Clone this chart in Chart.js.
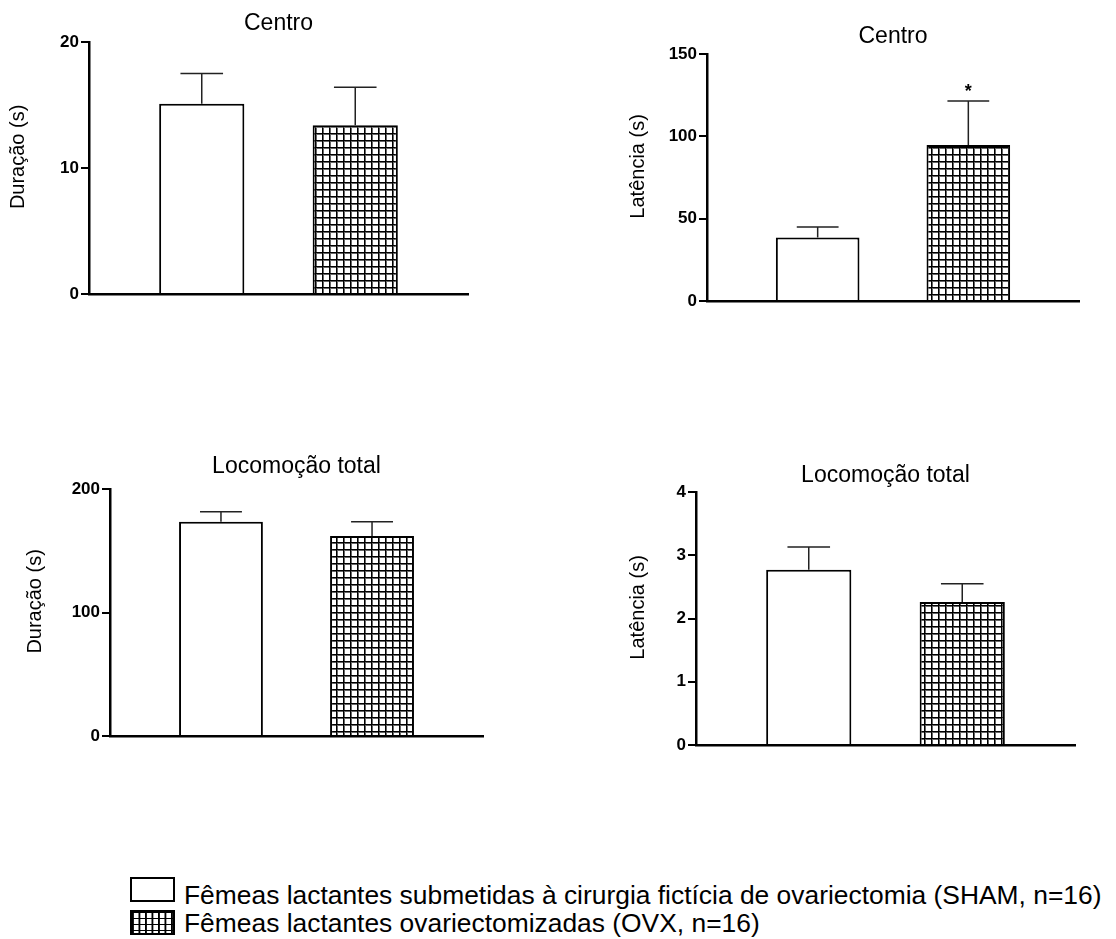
<!DOCTYPE html>
<html><head><meta charset="utf-8">
<script src="https://cdn.jsdelivr.net/npm/chart.js@4"></script>
<style>
body{margin:0;background:#fff;width:1116px;height:939px;position:relative;overflow:hidden;font-family:"Liberation Sans",Arial,sans-serif;}
canvas{position:absolute;}
.leg{position:absolute;left:184px;font-size:26.4px;color:#000;white-space:nowrap;line-height:26.4px;}
.box{position:absolute;left:130px;width:45px;box-sizing:border-box;border:2px solid #000;background:#fff;}
.hatch{background-color:#fff;background-image:linear-gradient(#000 1.5px, transparent 1.5px),linear-gradient(90deg,#000 1.5px, transparent 1.5px);background-size:6.5px 6px;}
</style></head>
<body>
<canvas id="c1" width="560" height="330" style="left:0;top:0"></canvas>
<canvas id="c2" width="556" height="330" style="left:560px;top:0"></canvas>
<canvas id="c3" width="560" height="340" style="left:0;top:430px"></canvas>
<canvas id="c4" width="556" height="340" style="left:560px;top:430px"></canvas>
<div class="box" style="top:877px;height:25px"></div>
<div class="box hatch" style="top:910px;height:25px"></div>
<div class="leg" id="leg1" style="top:882px"></div>
<div class="leg" id="leg2" style="top:910px"></div>
<script>
// ---- data ----
const groups = ['SHAM', 'OVX'];
const legendLabels = ['Fêmeas lactantes submetidas à cirurgia fictícia de ovariectomia (SHAM, n=16)',
                      'Fêmeas lactantes ovariectomizadas (OVX, n=16)'];

const centroDuracaoMean = [15.1, 13.4];
const centroDuracaoSem  = [2.4, 3.0];
const centroDuracaoTicks = [0, 10, 20];

const centroLatenciaMean = [38.5, 94.8];
const centroLatenciaSem  = [6.5, 26.6];
const centroLatenciaTicks = [0, 50, 100, 150];
const centroLatenciaSig  = ['', '*'];

const locDuracaoMean = [173.5, 162];
const locDuracaoSem  = [8.0, 11.4];
const locDuracaoTicks = [0, 100, 200];

const locLatenciaMean = [2.77, 2.26];
const locLatenciaSem  = [0.36, 0.29];
const locLatenciaTicks = [0, 1, 2, 3, 4];

document.getElementById('leg1').textContent = legendLabels[0];
document.getElementById('leg2').textContent = legendLabels[1];

const FONT = "'Liberation Sans', Arial, sans-serif";

function makePattern(){
  const c = document.createElement('canvas'); c.width = 7; c.height = 7;
  const g = c.getContext('2d');
  g.fillStyle = '#fff'; g.fillRect(0,0,7,7);
  g.fillStyle = '#000'; g.fillRect(0,0,7,1); g.fillRect(0,0,1,7);
  g.fillStyle = '#666'; g.fillRect(0,1,7,1); g.fillRect(1,0,1,7);
  g.fillStyle = '#000'; g.fillRect(0,0,2,1); g.fillRect(0,0,1,2);
  return g.createPattern(c, 'repeat');
}

const errPlugin = {
  id: 'errBars',
  afterDatasetsDraw(chart) {
    const ctx = chart.ctx, ys = chart.scales.y;
    chart.data.datasets.forEach((ds, i) => {
      const meta = chart.getDatasetMeta(i);
      meta.data.forEach((bar, j) => {
        const v = ds.data[j], e = ds.sem[j];
        const yTop = ys.getPixelForValue(v + e);
        const half = bar.width / 4;
        ctx.save();
        ctx.strokeStyle = '#222'; ctx.lineWidth = 1.5;
        ctx.beginPath();
        ctx.moveTo(bar.x, bar.y); ctx.lineTo(bar.x, yTop);
        ctx.moveTo(bar.x - half, yTop); ctx.lineTo(bar.x + half, yTop);
        ctx.stroke();
        if (ds.sig && ds.sig[j]) {
          ctx.fillStyle = '#000';
          ctx.font = 'bold 18px ' + FONT;
          ctx.textAlign = 'center'; ctx.textBaseline = 'middle';
          ctx.fillText(ds.sig[j], bar.x, yTop - 9);
        }
        ctx.restore();
      });
    });
  }
};

function makePanel(id, s) {
  const canvas = document.getElementById(id);
  const pat = makePattern();
  const ticks = s.ticks;
  new Chart(canvas, {
    type: 'bar',
    data: {
      labels: [''],
      datasets: [
        {label: groups[0], data: [s.mean[0]], sem: [s.sem[0]], sig: [s.sig ? s.sig[0] : ''],
         backgroundColor: '#fff', borderColor: '#000', borderWidth: 2},
        {label: groups[1], data: [s.mean[1]], sem: [s.sem[1]], sig: [s.sig ? s.sig[1] : ''],
         backgroundColor: pat, borderColor: '#000', borderWidth: 2}
      ]
    },
    options: {
      responsive: false, animation: false,
      layout: {padding: {left: 0, right: s.pr, top: s.pt + 2, bottom: s.pb}},
      datasets: {bar: {categoryPercentage: 0.81, barPercentage: 0.555}},
      plugins: {
        legend: {display: false}, tooltip: {enabled: false},
        title: {display: true, text: s.title, fullSize: false, color: '#000',
                font: {family: FONT, size: 23, weight: 'normal', lineHeight: 1.2},
                padding: {top: 0, bottom: s.tb - 2}}
      },
      scales: {
        x: {grid: {display: false}, ticks: {display: false},
            border: {display: true, color: '#000', width: 2.5},
            afterFit(sc) { sc.height = 0; }},
        y: {min: ticks[0], max: ticks[ticks.length - 1],
            afterBuildTicks(sc) { sc.ticks = ticks.map(v => ({value: v})); },
            ticks: {color: '#000', padding: 2, font: {family: FONT, size: 17, weight: 'bold'}},
            grid: {drawOnChartArea: false, drawTicks: true, tickLength: 8, color: '#000', lineWidth: 2},
            border: {display: true, color: '#000', width: 2.5},
            title: {display: true, text: '    ' + s.ytitle, color: '#000',
                    font: {family: FONT, size: 20, weight: 'normal', lineHeight: 1.2},
                    padding: {top: s.yt, bottom: 0}},
            afterFit(sc) { sc.width = s.aw; }}
      }
    },
    plugins: [errPlugin]
  });
}

makePanel('c1', {title: 'Centro', ytitle: 'Duração (s)', mean: centroDuracaoMean, sem: centroDuracaoSem,
  ticks: centroDuracaoTicks, aw: 89, pr: 560 - 468, pt: 8.2, tb: 6.2, pb: 330 - 294, yt: 6});
makePanel('c2', {title: 'Centro', ytitle: 'Latência (s)', mean: centroLatenciaMean, sem: centroLatenciaSem,
  sig: centroLatenciaSig, ticks: centroLatenciaTicks, aw: 147, pr: 556 - 519, pt: 21.2, tb: 5.2, pb: 330 - 301, yt: 66});
makePanel('c3', {title: 'Locomoção total', ytitle: 'Duração (s)', mean: locDuracaoMean, sem: locDuracaoSem,
  ticks: locDuracaoTicks, aw: 110, pr: 560 - 483, pt: 21.2, tb: 10.2, pb: 340 - 306, yt: 23});
makePanel('c4', {title: 'Locomoção total', ytitle: 'Latência (s)', mean: locLatenciaMean, sem: locLatenciaSem,
  ticks: locLatenciaTicks, aw: 136, pr: 556 - 515, pt: 30.2, tb: 4.2, pb: 340 - 315, yt: 66});
</script>
</body></html>
